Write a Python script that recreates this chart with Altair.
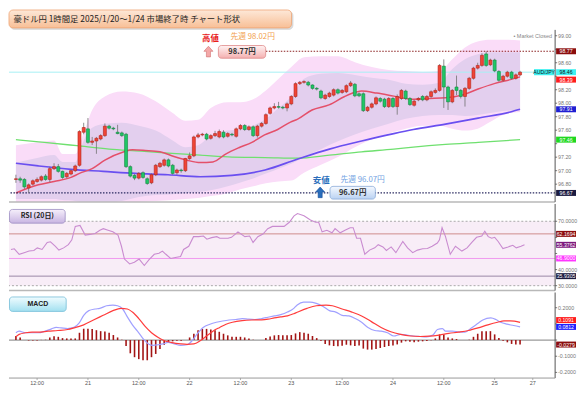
import altair as alt
import pandas as pd

# ------------------------------------------------------------------ data
title_text = "豪ドル円  1時間足  2025/1/20～1/24 市場終了時 チャート形状"
high_head, high_prev, high_box = "高値", "先週 98.02円", "98.77円"
low_head, low_prev, low_box = "安値", "先週 96.07円", "96.67円"
closed_text = "• Market Closed"
rsi_title, macd_title = "RSI (20日)", "MACD"
pair_name = "AUD/JPY"

week_high, week_low, last_price = 98.77, 96.67, 98.46

opens = [96.87, 96.88, 96.87, 96.744, 96.80, 96.84, 96.86, 96.92, 96.87, 97.03,
         97.06, 96.99, 96.91, 96.95, 97.00, 97.08, 97.57, 97.62, 97.42, 97.44,
         97.47, 97.52, 97.66, 97.63, 97.57, 97.56, 97.54, 97.06, 96.93, 96.89,
         96.97, 96.88, 96.82, 96.94, 97.06, 97.08, 97.16, 97.08, 96.97, 97.01,
         97.00, 97.18, 97.22, 97.50, 97.53, 97.54, 97.48, 97.52, 97.50, 97.57,
         97.51, 97.54, 97.51, 97.62, 97.67, 97.61, 97.65, 97.52, 97.66, 97.70,
         97.85, 97.93, 97.95, 97.94, 97.93, 97.99, 98.10, 98.29, 98.31, 98.31,
         98.27, 98.22, 98.18, 98.07, 98.10, 98.12, 98.20, 98.16, 98.17, 98.26,
         98.28, 98.14, 98.14, 97.89, 97.94, 97.99, 98.07, 98.06, 97.95, 98.07,
         97.95, 98.07, 98.18, 98.07, 97.97, 98.05, 98.10, 98.05, 98.10, 98.16,
         98.19, 98.55, 98.24, 98.02, 98.24, 98.19, 98.10, 98.22, 98.37, 98.52,
         98.56, 98.73, 98.57, 98.64, 98.47, 98.34, 98.40, 98.46, 98.37, 98.42]
closes = [96.88, 96.86, 96.76, 96.79, 96.85, 96.87, 96.91, 96.87, 97.03, 97.06,
          96.99, 96.90, 96.96, 97.00, 97.07, 97.58, 97.64, 97.42, 97.44, 97.48,
          97.52, 97.66, 97.63, 97.62, 97.55, 97.52, 97.06, 96.92, 96.89, 96.96,
          96.90, 96.81, 96.94, 97.08, 97.11, 97.16, 97.07, 96.96, 97.01, 97.00,
          97.18, 97.22, 97.50, 97.53, 97.54, 97.47, 97.52, 97.55, 97.58, 97.50,
          97.55, 97.53, 97.62, 97.67, 97.61, 97.65, 97.52, 97.66, 97.70, 97.83,
          97.93, 97.95, 97.94, 97.93, 97.99, 98.10, 98.29, 98.31, 98.32, 98.27,
          98.22, 98.21, 98.08, 98.12, 98.15, 98.20, 98.15, 98.19, 98.26, 98.30,
          98.11, 98.11, 97.89, 97.94, 97.99, 98.08, 98.03, 97.95, 98.07, 97.95,
          98.10, 98.19, 98.07, 97.98, 98.03, 98.07, 98.05, 98.10, 98.17, 98.19,
          98.56, 98.24, 98.02, 98.19, 98.19, 98.10, 98.22, 98.37, 98.52, 98.56,
          98.71, 98.56, 98.64, 98.48, 98.34, 98.40, 98.46, 98.37, 98.42, 98.46]
highs = [96.94, 96.91, 96.89, 96.81, 96.87, 96.90, 96.93, 96.95, 97.06, 97.11,
         97.10, 97.00, 96.98, 97.02, 97.09, 97.60, 97.71, 97.78, 97.50, 97.50,
         97.54, 97.70, 97.68, 97.65, 97.68, 97.58, 97.56, 97.08, 96.95, 96.98,
         96.99, 96.90, 96.96, 97.10, 97.13, 97.18, 97.18, 97.10, 97.03, 97.03,
         97.19, 97.27, 97.52, 97.56, 97.56, 97.56, 97.54, 97.59, 97.61, 97.60,
         97.57, 97.56, 97.64, 97.69, 97.69, 97.67, 97.67, 97.68, 97.72, 97.85,
         97.95, 98.00, 98.02, 97.96, 98.01, 98.12, 98.31, 98.33, 98.34, 98.33,
         98.28, 98.24, 98.20, 98.14, 98.17, 98.22, 98.22, 98.21, 98.28, 98.33,
         98.30, 98.16, 98.16, 97.96, 98.01, 98.10, 98.09, 98.08, 98.09, 98.09,
         98.13, 98.21, 98.20, 98.09, 98.05, 98.09, 98.12, 98.12, 98.19, 98.22,
         98.58, 98.65, 98.26, 98.21, 98.41, 98.21, 98.24, 98.39, 98.54, 98.60,
         98.74, 98.77, 98.66, 98.66, 98.49, 98.42, 98.48, 98.48, 98.44, 98.48]
lows = [96.82, 96.82, 96.73, 96.67, 96.78, 96.82, 96.84, 96.85, 96.83, 97.01,
        96.97, 96.88, 96.89, 96.93, 96.98, 97.06, 97.54, 97.40, 97.38, 97.25,
        97.45, 97.50, 97.61, 97.60, 97.54, 97.50, 97.04, 96.90, 96.86, 96.87,
        96.88, 96.79, 96.80, 96.92, 97.04, 97.06, 97.05, 96.94, 96.94, 96.97,
        96.98, 97.16, 97.20, 97.48, 97.51, 97.45, 97.46, 97.50, 97.48, 97.48,
        97.49, 97.51, 97.49, 97.60, 97.59, 97.59, 97.50, 97.49, 97.64, 97.68,
        97.83, 97.91, 97.92, 97.91, 97.88, 97.97, 98.08, 98.27, 98.29, 98.25,
        98.20, 98.19, 98.06, 98.05, 98.08, 98.10, 98.13, 98.14, 98.15, 98.24,
        98.09, 98.09, 97.87, 97.87, 97.92, 97.97, 98.01, 97.93, 97.93, 97.93,
        97.83, 98.05, 98.05, 97.96, 97.95, 98.03, 98.03, 98.03, 98.08, 98.14,
        98.17, 97.93, 97.90, 98.00, 98.12, 98.07, 97.95, 98.20, 98.35, 98.50,
        98.54, 98.54, 98.55, 98.46, 98.32, 98.32, 98.38, 98.35, 98.35, 98.40]
bar_index = list(range(len(opens)))

sma20_i = [0, 5.3, 9, 13, 15, 18, 21, 25.5, 27.5, 30.5, 34, 37.3, 40.4, 43.5, 46.5,
           49.6, 52.6, 55.7, 58.7, 61.8, 64.8, 66.4, 69.9, 73.9, 77.6, 80.3, 81.6,
           85.2, 89.2, 93.3, 97.6, 101.4, 105.3, 109.1, 112.9, 116.7, 119]
sma20_v = [96.67, 96.79, 96.84, 96.90, 96.96, 97.03, 97.155, 97.28, 97.31, 97.30,
           97.28, 97.21, 97.155, 97.12, 97.13, 97.25, 97.34, 97.42, 97.53, 97.61,
           97.72, 97.76, 97.90, 97.975, 98.10, 98.165, 98.18, 98.15, 98.105, 98.06,
           98.07, 98.08, 98.12, 98.21, 98.29, 98.35, 98.39]
sma75_i = [0, 5.3, 13, 20.6, 28.2, 35.9, 43.5, 51, 58.8, 66.4, 74, 81.6, 89.2,
           93.8, 101.4, 109.1, 116.7, 119]
sma75_v = [97.11, 97.07, 97.02, 96.99, 96.96, 96.94, 96.91, 96.93, 97.01, 97.17,
           97.32, 97.44, 97.55, 97.61, 97.69, 97.78, 97.87, 97.91]
sma200_i = [0, 6.7, 14.4, 22, 29.5, 35.9, 43.5, 51, 58.8, 66.4, 74, 81.6, 89.2,
            93.8, 101.4, 109.1, 119]
sma200_v = [97.46, 97.42, 97.37, 97.32, 97.29, 97.26, 97.23, 97.20, 97.195, 97.185,
            97.23, 97.28, 97.32, 97.35, 97.39, 97.42, 97.46]

band_i = [0, 5, 9, 11, 14, 16, 18, 21, 25, 29, 33, 37, 40, 43, 46, 50, 53, 56, 59,
          62, 65, 68, 72, 76, 80, 84, 88, 92, 96, 100, 103, 106, 109, 112, 115, 119]
band_u2 = [97.377, 97.420, 97.449, 97.246, 97.246, 97.565, 97.899, 98.101, 98.174,
           98.145, 98.029, 97.855, 97.739, 97.754, 97.928, 98.014, 98.014, 98.058,
           98.188, 98.362, 98.536, 98.681, 98.696, 98.696, 98.609, 98.536, 98.493,
           98.478, 98.464, 98.478, 98.652, 98.826, 98.913, 98.942, 98.942, 98.928]
band_u1 = [97.116, 97.188, 97.232, 97.130, 97.130, 97.449, 97.638, 97.696, 97.710,
           97.667, 97.594, 97.449, 97.348, 97.377, 97.522, 97.594, 97.609, 97.667,
           97.768, 97.928, 98.101, 98.362, 98.435, 98.449, 98.420, 98.377, 98.348,
           98.290, 98.275, 98.304, 98.507, 98.652, 98.725, 98.754, 98.754, 98.754]
band_l1 = [96.580, 96.580, 96.580, 96.565, 96.551, 96.522, 96.522, 96.522, 96.551,
           96.609, 96.638, 96.652, 96.667, 96.681, 96.710, 96.768, 96.826, 96.884,
           96.957, 97.029, 97.101, 97.203, 97.319, 97.435, 97.536, 97.623, 97.696,
           97.768, 97.812, 97.826, 97.826, 97.812, 97.826, 97.855, 97.884, 97.899]
band_l2 = [96.449, 96.449, 96.449, 96.435, 96.420, 96.406, 96.406, 96.420, 96.478,
           96.536, 96.551, 96.565, 96.580, 96.594, 96.623, 96.667, 96.725, 96.768,
           96.812, 96.841, 96.855, 96.971, 97.087, 97.203, 97.348, 97.464, 97.551,
           97.623, 97.667, 97.667, 97.623, 97.594, 97.623, 97.725, 97.826, 97.870]

rsi_i = [0, 0.77, 1.9, 3.05, 4.2, 5.3, 6.1, 7.2, 8.4, 9.15, 10.3, 11.1, 12.2, 13.3,
         14.1, 14.9, 16.0, 17.2, 18.3, 19.5, 20.6, 21.4, 22.5, 23.6, 24.8, 25.6,
         26.3, 27.5, 28.6, 29.7, 30.9, 32.0, 33.2, 34.3, 35.1, 35.9, 37.0, 38.1,
         39.3, 40.0, 41.2, 42.3, 43.5, 44.6, 45.4, 46.5, 47.7, 48.4, 50.3, 51.1,
         52.6, 54.2, 55.3, 56.1, 57.2, 58.4, 59.5, 60.6, 63.3, 64.5, 65.6, 66.4,
         67.9, 69.4, 70.6, 71.3, 72.1, 73.2, 74.4, 75.1, 76.3, 77.4, 78.6, 79.3,
         80.1, 81.0, 82.0, 83.1, 84.3, 85.1, 86.2, 87.0, 88.1, 89.2, 90.8, 91.9,
         93.1, 94.2, 95.4, 96.5, 97.6, 98.8, 99.3, 99.9, 100.7, 101.8, 103.0,
         104.5, 105.7, 106.8, 107.9, 109.1, 109.8, 110.6, 111.4, 112.1, 112.9,
         114.0, 115.2, 116.3, 117.1, 118.2, 119.0]
rsi_v = [52.49, 52.89, 49.5, 50.5, 51.49, 51.89, 53.48, 52.49, 56.87, 57.26,
         54.48, 52.09, 53.48, 55.47, 58.46, 66.82, 67.41, 61.44, 61.84, 62.44,
         64.43, 65.42, 64.43, 63.43, 61.44, 54.48, 46.52, 43.53, 44.53, 46.52,
         42.54, 46.12, 49.5, 50.1, 51.49, 49.5, 46.92, 47.51, 48.11, 52.49,
         54.48, 60.45, 60.45, 60.85, 58.86, 59.85, 60.45, 59.45, 59.45, 60.05,
         63.43, 60.45, 60.85, 56.87, 60.45, 62.04, 65.42, 66.82, 66.82, 69.4,
         73.38, 74.78, 73.38, 70.8, 69.4, 69.4, 63.43, 64.43, 62.84, 65.42,
         62.84, 64.43, 66.02, 66.02, 59.45, 59.45, 49.5, 52.09, 53.48, 55.47,
         54.08, 51.89, 54.08, 50.5, 57.46, 53.48, 50.5, 52.09, 52.89, 53.08,
         54.48, 56.47, 58.46, 66.02, 60.45, 49.5, 54.48, 51.49, 53.48, 56.87,
         60.05, 60.85, 63.83, 60.45, 59.45, 60.05, 57.46, 53.08, 54.08, 55.07,
         53.48, 54.48, 55.38]
rsi_levels = {"upper": 70, "lower": 30}
rsi_lines = [62.1694, 46.9000, 35.9305]

macd_i = [0, 0.76, 2.3, 3.8, 5.3, 6.9, 8.4, 9.5, 10.7, 12.2, 13.7, 14.9, 16.0, 17.2,
          18.7, 19.8, 21.4, 22.9, 24.0, 25.2, 26.3, 27.5, 29.0, 30.1, 31.3, 32.4,
          33.6, 34.7, 35.9, 37.4, 38.9, 40.4, 41.6, 42.7, 44.2, 45.8, 47.3, 48.8,
          50.3, 51.9, 53.4, 54.9, 56.4, 58.0, 59.5, 61.0, 62.5, 64.1, 65.6, 66.4,
          67.9, 69.4, 70.9, 72.5, 74.0, 75.5, 77.0, 78.6, 80.1, 81.6, 83.1, 84.7,
          86.2, 87.7, 89.2, 90.8, 92.3, 93.8, 95.4, 96.9, 98.4, 99.5, 100.7, 101.4,
          103.0, 104.5, 106.0, 107.5, 109.1, 110.2, 112.1, 113.3, 114.4, 115.9,
          117.5, 119.0]
macd_v = [0.045, 0.055, 0.045, 0.045, 0.045, 0.055, 0.069, 0.078, 0.075, 0.071,
          0.078, 0.104, 0.153, 0.182, 0.192, 0.196, 0.212, 0.216, 0.212, 0.192,
          0.143, 0.094, 0.045, 0.006, -0.024, -0.033, -0.029, -0.024, -0.014, -0.024,
          -0.033, -0.029, -0.004, 0.035, 0.078, 0.098, 0.11, 0.118, 0.124, 0.127,
          0.133, 0.129, 0.127, 0.133, 0.141, 0.149, 0.157, 0.173, 0.196, 0.217,
          0.235, 0.235, 0.227, 0.208, 0.182, 0.173, 0.153, 0.149, 0.133, 0.11,
          0.078, 0.059, 0.055, 0.045, 0.025, 0.035, 0.031, 0.025, 0.022, 0.02,
          0.031, 0.065, 0.071, 0.055, 0.055, 0.051, 0.049, 0.075, 0.104, 0.124,
          0.137, 0.127, 0.11, 0.098, 0.09, 0.081]
sig_i = [0, 0.76, 2.3, 3.8, 5.3, 7.6, 9.9, 12.2, 13.7, 16.0, 18.3, 20.6, 22.9, 24.8,
         26.3, 27.5, 29.0, 30.5, 32.0, 33.6, 35.1, 36.6, 38.9, 40.4, 42.0, 43.5,
         45.0, 46.5, 48.1, 49.6, 51.1, 53.4, 55.7, 58.0, 59.5, 61.0, 62.5, 64.1,
         65.6, 66.4, 68.7, 70.9, 73.2, 74.7, 77.0, 79.3, 81.6, 83.9, 86.2, 88.5,
         90.8, 93.1, 95.4, 97.6, 99.9, 102.2, 104.5, 106.8, 109.1, 111.4, 113.7,
         115.2, 116.7, 119.0]
sig_v = [0.02, 0.035, 0.045, 0.049, 0.049, 0.055, 0.059, 0.065, 0.075, 0.094,
         0.124, 0.153, 0.182, 0.196, 0.192, 0.173, 0.133, 0.084, 0.045, 0.016,
         -0.004, -0.014, -0.024, -0.027, -0.024, -0.004, 0.025, 0.055, 0.078, 0.098,
         0.11, 0.12, 0.124, 0.125, 0.129, 0.137, 0.143, 0.149, 0.163, 0.172,
         0.196, 0.212, 0.216, 0.212, 0.192, 0.173, 0.149, 0.114, 0.078, 0.051,
         0.035, 0.025, 0.022, 0.024, 0.031, 0.041, 0.049, 0.059, 0.075, 0.094,
         0.11, 0.118, 0.118, 0.109]
hist_v = [0.025, 0.016, 0.0, -0.003, -0.003, -0.003, 0.001, 0.002, 0.016, 0.024,
          0.02, 0.012, 0.01, 0.01, 0.01, 0.045, 0.07, 0.07, 0.069, 0.061,
          0.055, 0.053, 0.045, 0.031, 0.016, 0.002, -0.037, -0.082, -0.106, -0.118,
          -0.125, -0.125, -0.106, -0.086, -0.055, -0.029, -0.018, -0.008, -0.004, -0.004,
          0.0, 0.016, 0.039, 0.061, 0.069, 0.069, 0.065, 0.061, 0.051, 0.039,
          0.029, 0.02, 0.02, 0.02, 0.016, 0.01, 0.002, 0.0, 0.0, 0.012,
          0.022, 0.029, 0.031, 0.029, 0.029, 0.031, 0.041, 0.049, 0.045, 0.039,
          0.025, 0.012, -0.004, -0.024, -0.033, -0.037, -0.039, -0.035, -0.029, -0.033,
          -0.037, -0.033, -0.053, -0.059, -0.059, -0.055, -0.049, -0.043, -0.037, -0.033,
          -0.027, -0.016, -0.008, -0.01, -0.014, -0.01, -0.008, -0.006, -0.002, 0.01,
          0.035, 0.035, 0.016, 0.01, 0.006, 0.0, 0.0, 0.002, 0.02, 0.039,
          0.055, 0.055, 0.055, 0.035, 0.012, -0.004, -0.014, -0.024, -0.027, -0.028]

tick_pos = [5, 17, 29, 41, 53, 65, 77, 89, 101, 113, 122]
tick_text = ["12:00", "21", "12:00", "22", "12:00", "23", "12:00", "24", "12:00", "25", "27"]
price_ticks = [96.8, 97.0, 97.2, 97.4, 97.6, 97.8, 98.0, 98.2, 98.4, 98.6, 98.8, 99.0]
rsi_ticks = [30, 40, 50, 60, 70]
macd_ticks = [-0.2, -0.1, 0.0, 0.1, 0.2]

price_tags = [98.77, 98.46, 98.39, 97.91, 97.46, 96.67]
rsi_tags = [62.1694, 55.3762, 46.9000, 35.9305]
macd_tags = [0.1091, 0.0812, -0.0279]

# ------------------------------------------------------------------ layout / style
W, H1, H2, H3 = 549, 173, 87, 86
FONT, JP = "Liberation Sans", "Noto Sans CJK JP"
xscale = alt.Scale(domain=[-0.46, 126.1], nice=False, zero=False)
ys_p = alt.Scale(domain=[96.536, 99.087], nice=False, zero=False)
ys_r = alt.Scale(domain=[27.0, 80.75], nice=False, zero=False)
ys_m = alt.Scale(domain=[-0.235, 0.294], nice=False, zero=False)
high_line_from = 59
tag_shift = {98.39: 98.35, 0.1091: 0.1235}
# tick labels that sit under a value tag (hidden there in the original too)
covered = {98.8, 98.4, 97.4, 60, 50, 0.1, 0.0}
price_tag_col = [("#8b0d0d", "white"), ("#3ff0f0", "#111"), ("#ff1c1c", "white"),
                 ("#1f1fd2", "white"), ("#1fd81f", "white"), ("#1b1b40", "white")]
rsi_tag_col = [("#8b0d0d", "white"), ("#7d1a7d", "white"), ("#ff36ff", "white"), ("#1b1b40", "white")]
macd_tag_col = [("#ff1c1c", "white"), ("#1f1fff", "white"), ("#8b0d0d", "white")]
TAG_PATH = "M-1,-0.3L1,-0.3L1,0.3L-1,0.3Z"
ARROW = "M0,-1L0.85,-0.05L0.38,-0.05L0.38,1L-0.38,1L-0.38,-0.05L-0.85,-0.05Z"

one = pd.DataFrame({"k": [0]})
NOX = alt.X("i:Q", scale=xscale, axis=None)


def grad(top, bottom):
    return alt.LinearGradient(gradient="linear", x1=0, y1=0, x2=0, y2=1,
                              stops=[alt.GradientStop(offset=0, color=top),
                                     alt.GradientStop(offset=1, color=bottom)])


def box(x1, x2, y1, y2, fill, stroke, r=3):
    return alt.Chart(one).mark_rect(fill=fill, stroke=stroke, strokeWidth=0.8,
                                    cornerRadius=r).encode(
        x=alt.value(x1), x2=alt.value(x2), y=alt.value(y1), y2=alt.value(y2))


def txt(x, y, s, size, color, weight="normal", align="center", font=JP):
    return alt.Chart(one).mark_text(text=s, fontSize=size, color=color, fontWeight=weight,
                                    align=align, baseline="middle", font=font).encode(
        x=alt.value(x), y=alt.value(y))


def arrow(x, y, fill, stroke):
    return alt.Chart(one).mark_point(shape=ARROW, filled=True, fill=fill, stroke=stroke,
                                     strokeWidth=0.6, size=115, opacity=1).encode(
        x=alt.value(x), y=alt.value(y))


def tag_layers(values, cols, ys, fmt, cx):
    out = []
    for v, (bg, fg) in zip(values, cols):
        d = pd.DataFrame({"at": [tag_shift.get(v, v)], "label": [format(v, fmt)]})
        out.append(alt.Chart(d).mark_point(shape=TAG_PATH, filled=True, fill=bg, size=400,
                                           opacity=1, strokeWidth=0).encode(
            x=alt.value(cx), y=alt.Y("at:Q", scale=ys, axis=None)))
        out.append(alt.Chart(d).mark_text(fontSize=5.2, font=FONT, color=fg, baseline="middle").encode(
            x=alt.value(cx), y=alt.Y("at:Q", scale=ys, axis=None), text="label:N"))
    return out


def right_axis(vals, fmt, ys, h):
    d = pd.DataFrame({"v": vals})
    shown = [v for v in vals if v not in covered]
    dl = pd.DataFrame({"v": shown, "lbl": [format(v, fmt) for v in shown]})
    dom = alt.Chart(one).mark_rule(color="#555", strokeWidth=1).encode(
        x=alt.value(W), y=alt.value(0), y2=alt.value(h))
    ticks = alt.Chart(d).mark_rule(color="#555", strokeWidth=0.8).encode(
        x=alt.value(W), x2=alt.value(W + 2), y=alt.Y("v:Q", scale=ys, axis=None))
    labels = alt.Chart(dl).mark_text(align="left", baseline="middle", fontSize=5.3,
                                     color="#777", font=FONT).encode(
        x=alt.value(W + 3), y=alt.Y("v:Q", scale=ys, axis=None), text="lbl:N")
    return [dom, ticks, labels]


def bottom_axis(h):
    d = pd.DataFrame({"i": tick_pos, "lbl": tick_text})
    dom = alt.Chart(one).mark_rule(color="#999", strokeWidth=1).encode(
        x=alt.value(0), x2=alt.value(W), y=alt.value(h))
    ticks = alt.Chart(d).mark_rule(color="#999", strokeWidth=0.8).encode(
        x=NOX, y=alt.value(h), y2=alt.value(h + 2))
    labels = alt.Chart(d).mark_text(baseline="top", fontSize=5.5, color="#555",
                                    font=FONT).encode(
        x=NOX, y=alt.value(h + 3), text="lbl:N")
    return [dom, ticks, labels]


def sep(h):
    return alt.Chart(one).mark_rule(color="#b8b8b8", strokeWidth=1.5).encode(
        x=alt.value(0), x2=alt.value(W), y=alt.value(h))


def series(xs, vs, ys, color, w):
    d = pd.DataFrame({"i": xs, "v": vs})
    return alt.Chart(d).mark_line(color=color, strokeWidth=w, interpolate="monotone",
                                  clip=True).encode(x=NOX, y=alt.Y("v:Q", scale=ys, axis=None))


# ------------------------------------------------------------------ main panel
cdf = pd.DataFrame({"i": bar_index, "o": opens, "h": highs, "l": lows, "c": closes})
bdf = pd.DataFrame({"i": band_i, "u2": band_u2, "u1": band_u1, "l1": band_l1, "l2": band_l2})

outer = alt.Chart(bdf).mark_area(fill="#fadcf8", clip=True, interpolate="monotone").encode(
    x=NOX, y=alt.Y("l2:Q", scale=ys_p, axis=None), y2="u2:Q")
inner = alt.Chart(bdf).mark_area(fill="#e3cfee", clip=True, interpolate="monotone").encode(
    x=NOX, y=alt.Y("l1:Q", scale=ys_p, axis=None), y2="u1:Q")

cyan = alt.Chart(pd.DataFrame({"v": [last_price]})).mark_rule(color="#a6f0f4", strokeWidth=1).encode(
    y=alt.Y("v:Q", scale=ys_p, axis=None))
hi_line = alt.Chart(pd.DataFrame({"v": [week_high], "x0": [high_line_from]})).mark_rule(
    color="#8b2020", strokeDash=[1.5, 1.5], strokeWidth=1.2).encode(
    x=alt.X("x0:Q", scale=xscale, axis=None), x2=alt.value(W), y=alt.Y("v:Q", scale=ys_p, axis=None))
lo_line = alt.Chart(pd.DataFrame({"v": [week_low]})).mark_rule(
    color="#2a2a60", strokeDash=[1.5, 1.5], strokeWidth=1.2).encode(
    y=alt.Y("v:Q", scale=ys_p, axis=None))

wicks = alt.Chart(cdf).mark_rule(color="#707070", strokeWidth=0.8, clip=True).encode(
    x=NOX, y=alt.Y("l:Q", scale=ys_p, axis=None), y2="h:Q")
up = "datum.c >= datum.o"
bodies = alt.Chart(cdf).mark_bar(size=3, strokeWidth=0.6, clip=True).encode(
    x=NOX, y=alt.Y("o:Q", scale=ys_p, axis=None), y2="c:Q",
    fill=alt.condition(up, alt.value("#ef4536"), alt.value("#1fc766")),
    stroke=alt.condition(up, alt.value("#b5221a"), alt.value("#11893f")))

main_layers = [
    outer, inner, cyan,
    series(sma200_i, sma200_v, ys_p, "#6fe06f", 1.3),
    series(sma75_i, sma75_v, ys_p, "#6a4ff0", 1.7),
    series(sma20_i, sma20_v, ys_p, "#e4506a", 1.5),
    hi_line, lo_line, wicks, bodies, sep(H1),
    # title
    box(1.5, 285.5, -18.5, -0.5, "#d9d9d9", "#d9d9d9", 4),
    box(0, 284, -20, -2, grad("#fde8d8", "#f8bf96"), "#efa676", 4),
    txt(4.5, -11, title_text, 8.4, "#222", align="left"),
    # high annotation
    txt(202.5, 8, high_head, 8.5, "#e8201a", "bold"),
    txt(245, 7.6, high_prev, 7.8, "#f2a04c"),
    box(210.5, 258, 15.7, 28.5, grad("#fff2f2", "#f4b0b0"), "#de8a8a"),
    txt(234.3, 22.2, high_box, 7.5, "#333", "bold"),
    arrow(200.5, 21.8, "#f4a8a8", "#d07070"),
    # low annotation
    txt(313.8, 151.4, low_head, 8.5, "#2a6ebb", "bold"),
    txt(355.5, 151.2, low_prev, 7.8, "#72a2e2"),
    box(322.7, 368.3, 157.3, 170.1, grad("#f5f9ff", "#bad2f2"), "#8aaad8"),
    txt(345.5, 163.8, low_box, 7.5, "#333", "bold"),
    arrow(312.8, 163.3, "#2a6ebb", "#1a4e9b"),
    txt(546, 6, closed_text, 5.5, "#888", align="right", font=FONT),
]
main_layers += right_axis(price_ticks, ".2f", ys_p, H1)
pair = pd.DataFrame({"at": [last_price], "label": [pair_name]})
main_layers.append(alt.Chart(pair).mark_point(shape=TAG_PATH, filled=True, fill="#3ff0f0", size=420,
                                              opacity=1, strokeWidth=0).encode(
    x=alt.value(W - 11), y=alt.Y("at:Q", scale=ys_p, axis=None)))
main_layers.append(alt.Chart(pair).mark_text(fontSize=5.2, font=FONT, color="#111", baseline="middle").encode(
    x=alt.value(W - 11), y=alt.Y("at:Q", scale=ys_p, axis=None), text="label:N"))
main_layers += tag_layers(price_tags, price_tag_col, ys_p, ".2f", W + 11)
main = alt.layer(*main_layers).properties(width=W, height=H1)

# ------------------------------------------------------------------ RSI panel
rsi_bg = alt.Chart(pd.DataFrame({"a": [rsi_levels["upper"]], "b": [rsi_levels["lower"]]})).mark_rect(
    fill="#f8edf7").encode(x=alt.value(0), x2=alt.value(W),
                           y=alt.Y("a:Q", scale=ys_r, axis=None), y2="b:Q")
rsi_dash = alt.Chart(pd.DataFrame({"v": [rsi_levels["upper"], rsi_levels["lower"]]})).mark_rule(
    color="#a8a8a8", strokeDash=[2, 2], strokeWidth=1).encode(y=alt.Y("v:Q", scale=ys_r, axis=None))
rl_cols = ["#d08c8c", "#f099ef", "#9a88a6"]
rsi_rules = [alt.Chart(pd.DataFrame({"v": [v]})).mark_rule(color=c, strokeWidth=1).encode(
    y=alt.Y("v:Q", scale=ys_r, axis=None)) for v, c in zip(rsi_lines, rl_cols)]
rsi_line = alt.Chart(pd.DataFrame({"i": rsi_i, "v": rsi_v})).mark_line(
    color="#c98bd0", strokeWidth=1.1).encode(x=NOX, y=alt.Y("v:Q", scale=ys_r, axis=None))
rsi_layers = [rsi_bg, rsi_dash] + rsi_rules + [
    rsi_line, sep(H2),
    box(0.5, 56.5, 5.5, 19.3, grad("#f6f0fb", "#c8b4e2"), "#9d8dc2"),
    txt(28.5, 12.6, rsi_title, 7, "#222", "bold"),
] + right_axis(rsi_ticks, ".4f", ys_r, H2) + tag_layers(rsi_tags, rsi_tag_col, ys_r, ".4f", W + 11)
rsi = alt.layer(*rsi_layers).properties(width=W, height=H2)

# ------------------------------------------------------------------ MACD panel
zero = alt.Chart(pd.DataFrame({"v": [0.0]})).mark_rule(color="#9a9a9a", strokeWidth=1.2).encode(
    y=alt.Y("v:Q", scale=ys_m, axis=None))
hist = alt.Chart(pd.DataFrame({"i": bar_index, "h": hist_v})).mark_bar(
    size=1.6, color="#a31515").encode(
    x=NOX, y=alt.Y("h:Q", scale=ys_m, axis=None), y2=alt.datum(0))
macd_layers = [
    zero, hist,
    series(macd_i, macd_v, ys_m, "#a0a0ff", 1.2),
    series(sig_i, sig_v, ys_m, "#ff3c3c", 1.2),
    box(0.5, 57.5, 4.5, 19, grad("#f0fcff", "#a2e0f0"), "#74bcd6"),
    txt(29, 11.8, macd_title, 7, "#222", "bold", font=FONT),
] + right_axis(macd_ticks, ".4f", ys_m, H3) + bottom_axis(H3) + \
    tag_layers(macd_tags, macd_tag_col, ys_m, ".4f", W + 11)
macd = alt.layer(*macd_layers).properties(width=W, height=H3)

chart = alt.vconcat(main, rsi, macd, spacing=0).properties(
    padding=0, background="white").configure_view(stroke=None)

chart.save("out.html", embed_options={"renderer": "svg", "actions": False})
